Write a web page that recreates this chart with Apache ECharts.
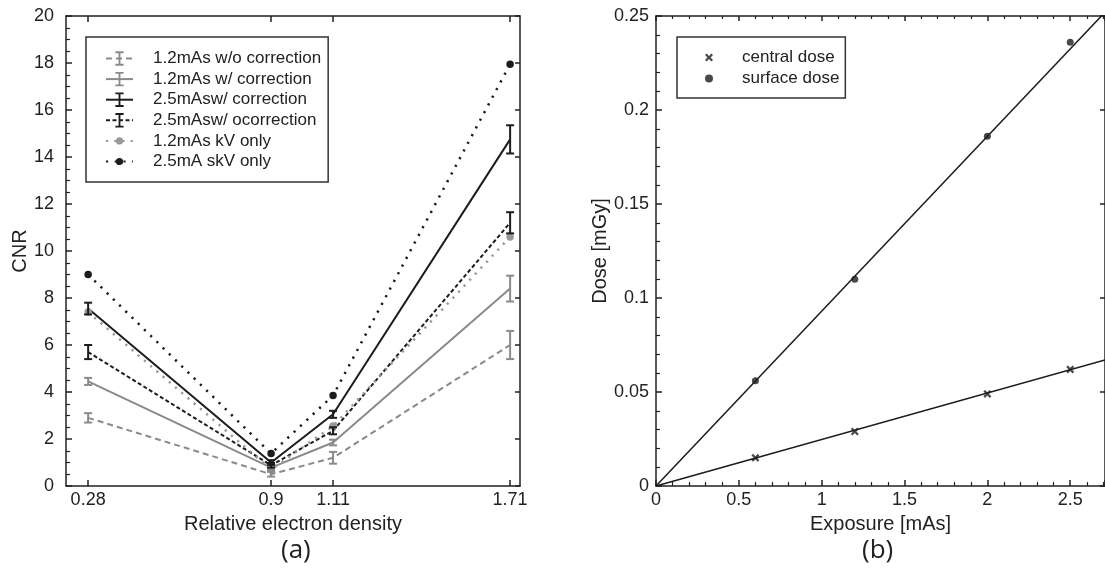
<!DOCTYPE html>
<html>
<head>
<meta charset="utf-8">
<script src="https://cdn.jsdelivr.net/npm/echarts@6/dist/echarts.min.js"></script>
<style>
  html, body { margin: 0; padding: 0; background: #fff; }
  #main { width: 1105px; height: 571px; }
</style>
</head>
<body>
<div id="main"></div>
<script>
// (a) CNR vs relative electron density
const densityX = [0.28, 0.9, 1.11, 1.71];
const cnr12NoCorr = [2.9, 0.5, 1.2, 6.0];
const err12NoCorr = [0.2, 0.1, 0.25, 0.6];
const cnr12Corr = [4.45, 0.78, 1.85, 8.4];
const err12Corr = [0.15, 0.1, 0.12, 0.55];
const cnr25Corr = [7.55, 1.0, 3.05, 14.75];
const err25Corr = [0.25, 0.1, 0.15, 0.6];
const cnr25NoCorr = [5.7, 0.88, 2.35, 11.2];
const err25NoCorr = [0.3, 0.1, 0.15, 0.45];
const cnr12kV = [7.4, 0.7, 2.55, 10.6];
const cnr25kV = [9.0, 1.38, 3.85, 17.95];
const cnrTicks = [0.28, 0.9, 1.11, 1.71];

// (b) dose vs exposure
const exposure = [0.6, 1.2, 2.0, 2.5];
const centralDose = [0.015, 0.029, 0.049, 0.062];
const surfaceDose = [0.056, 0.110, 0.186, 0.236];
const fitX = [0, 2.71];
const centralFit = [0, 0.067];
const surfaceFit = [0, 0.252];

const GRAY = '#8a8a8a';
const BLACK = '#1c1c1c';
const AXIS = '#222';
const FONT = '"Liberation Sans", Arial, sans-serif';
// symbols padded with empty moveTo corners so legend icons keep their shape
const ERRBAR = 'path://M0,0M14,14M3,0H11V1.8H7.9V12.2H11V14H3V12.2H6.1V1.8H3Z';
const DOT = 'path://M0,0M14,14M7,3.5A3.5,3.5,0,1,1,6.99,3.5Z';
const CROSS = 'path://M2,0L5,3L8,0L10,2L7,5L10,8L8,10L5,7L2,10L0,8L3,5L0,2Z';

const chart = echarts.init(document.getElementById('main'), null, { renderer: 'canvas' });

function pairs(xs, ys) {
  return xs.map((x, i) => [x, ys[i]]);
}

function lineSeries(name, values, color, type, width, symbol, showSymbol) {
  return {
    name: name,
    type: 'line',
    xAxisIndex: 0,
    yAxisIndex: 0,
    data: pairs(densityX, values),
    symbol: symbol,
    symbolSize: 15,
    showSymbol: showSymbol,
    itemStyle: { color: color },
    lineStyle: { color: color, width: width, type: type },
    z: 2
  };
}

function errorBars(values, errs, color) {
  return {
    type: 'custom',
    name: 'err',
    xAxisIndex: 0,
    yAxisIndex: 0,
    data: densityX.map((x, i) => [x, values[i], errs[i]]),
    encode: { x: 0, y: 1 },
    z: 3,
    renderItem: function (params, api) {
      const x = api.value(0), y = api.value(1), e = api.value(2);
      const hi = api.coord([x, y + e]);
      const lo = api.coord([x, y - e]);
      const w = 4;
      const st = { stroke: color, lineWidth: 2 };
      return {
        type: 'group',
        children: [
          { type: 'line', shape: { x1: hi[0], y1: hi[1], x2: lo[0], y2: lo[1] }, style: st },
          { type: 'line', shape: { x1: hi[0] - w, y1: hi[1], x2: hi[0] + w, y2: hi[1] }, style: st },
          { type: 'line', shape: { x1: lo[0] - w, y1: lo[1], x2: lo[0] + w, y2: lo[1] }, style: st }
        ]
      };
    }
  };
}

const axisLine = { show: true, onZero: false, lineStyle: { color: AXIS, width: 1.5 } };
const labelStyle = { color: '#222', fontSize: 18, fontFamily: FONT };
const nameStyle = { color: '#222', fontSize: 20, fontFamily: FONT };

var option = {
  animation: false,
  backgroundColor: '#fff',
  textStyle: { fontFamily: FONT },
  grid: [
    { left: 66, top: 16, width: 454, height: 470 },
    { left: 656, top: 16, width: 450, height: 470 }
  ],
  xAxis: [
    {
      gridIndex: 0, type: 'value', min: 0.205, max: 1.7435,
      name: 'Relative electron density', nameLocation: 'middle', nameGap: 28,
      nameTextStyle: nameStyle,
      axisLine: axisLine,
      axisTick: { inside: true, length: 6, customValues: cnrTicks, lineStyle: { color: AXIS, width: 1.5 } },
      axisLabel: Object.assign({ customValues: cnrTicks, margin: 5 }, labelStyle),
      splitLine: { show: false }
    },
    {
      gridIndex: 0, type: 'value', min: 0.205, max: 1.7435, position: 'top',
      axisLine: axisLine,
      axisTick: { inside: true, length: 6, customValues: cnrTicks, lineStyle: { color: AXIS, width: 1.5 } },
      axisLabel: { show: false },
      splitLine: { show: false }
    },
    {
      gridIndex: 1, type: 'value', min: 0, max: 2.71, interval: 0.5,
      name: 'Exposure [mAs]', nameLocation: 'middle', nameGap: 28,
      nameTextStyle: nameStyle,
      axisLine: axisLine,
      axisTick: { inside: true, length: 6, lineStyle: { color: AXIS, width: 1.5 } },
      minorTick: { show: true, splitNumber: 5, length: 4, lineStyle: { color: AXIS, width: 1.2 } },
      axisLabel: Object.assign({ margin: 5, showMaxLabel: false }, labelStyle),
      splitLine: { show: false }
    },
    {
      gridIndex: 1, type: 'value', min: 0, max: 2.71, interval: 0.5, position: 'top',
      axisLine: axisLine,
      axisTick: { inside: true, length: 5, lineStyle: { color: AXIS, width: 1.5 } },
      minorTick: { show: true, splitNumber: 5, length: 3, lineStyle: { color: AXIS, width: 1.2 } },
      axisLabel: { show: false },
      splitLine: { show: false }
    }
  ],
  yAxis: [
    {
      gridIndex: 0, type: 'value', min: 0, max: 20, interval: 2,
      name: 'CNR', nameLocation: 'middle', nameGap: 33,
      nameTextStyle: nameStyle,
      axisLine: axisLine,
      axisTick: { inside: true, length: 6, lineStyle: { color: AXIS, width: 1.5 } },
      minorTick: { show: true, splitNumber: 4, length: 4, lineStyle: { color: AXIS, width: 1.2 } },
      axisLabel: Object.assign({ margin: 12 }, labelStyle),
      splitLine: { show: false }
    },
    {
      gridIndex: 0, type: 'value', min: 0, max: 20, interval: 2, position: 'right',
      axisLine: axisLine,
      axisTick: { inside: true, length: 5, lineStyle: { color: AXIS, width: 1.5 } },
      axisLabel: { show: false },
      splitLine: { show: false }
    },
    {
      gridIndex: 1, type: 'value', min: 0, max: 0.25, interval: 0.05,
      name: 'Dose [mGy]', nameLocation: 'middle', nameGap: 36,
      nameTextStyle: nameStyle,
      axisLine: axisLine,
      axisTick: { inside: true, length: 6, lineStyle: { color: AXIS, width: 1.5 } },
      minorTick: { show: true, splitNumber: 5, length: 4, lineStyle: { color: AXIS, width: 1.2 } },
      axisLabel: Object.assign({ margin: 7 }, labelStyle),
      splitLine: { show: false }
    },
    {
      gridIndex: 1, type: 'value', min: 0, max: 0.25, interval: 0.05, position: 'right',
      axisLine: axisLine,
      axisTick: { inside: true, length: 5, lineStyle: { color: AXIS, width: 1.5 } },
      axisLabel: { show: false },
      splitLine: { show: false }
    }
  ],
  legend: [
    {
      left: 86, top: 37, orient: 'vertical',
      data: ['1.2mAs w/o correction', '1.2mAs w/ correction', '2.5mAsw/ correction',
             '2.5mAsw/ ocorrection', '1.2mAs kV only', '2.5mA skV only'],
      itemWidth: 27, itemHeight: 18, itemGap: 3.6,
      padding: [13, 7, 12, 19],
      borderColor: '#333', borderWidth: 1.5, borderRadius: 0,
      backgroundColor: '#fff',
      textStyle: { color: '#222', fontSize: 17, fontFamily: FONT, padding: [0, 0, 0, 15] },
      selectedMode: false
    },
    {
      left: 677, top: 37, orient: 'vertical',
      data: ['central dose', 'surface dose'],
      itemWidth: 8, itemHeight: 8, itemGap: 4,
      padding: [12, 6, 11, 28],
      borderColor: '#333', borderWidth: 1.5, borderRadius: 0,
      backgroundColor: '#fff',
      textStyle: { color: '#222', fontSize: 17, fontFamily: FONT, padding: [0, 0, 0, 24] },
      selectedMode: false
    }
  ],
  graphic: [
    { type: 'text', left: 281, top: 538, style: { text: '(a)', fontSize: 26, fontFamily: '"Open Sans", sans-serif', fill: '#222' } },
    { type: 'text', left: 862, top: 538, style: { text: '(b)', fontSize: 26, fontFamily: '"Open Sans", sans-serif', fill: '#222' } }
  ],
  series: [
    lineSeries('1.2mAs w/o correction', cnr12NoCorr, GRAY, [6, 4], 2, ERRBAR, false),
    errorBars(cnr12NoCorr, err12NoCorr, GRAY),
    lineSeries('1.2mAs w/ correction', cnr12Corr, GRAY, 'solid', 2, ERRBAR, false),
    errorBars(cnr12Corr, err12Corr, GRAY),
    lineSeries('2.5mAsw/ correction', cnr25Corr, BLACK, 'solid', 2, ERRBAR, false),
    errorBars(cnr25Corr, err25Corr, BLACK),
    lineSeries('2.5mAsw/ ocorrection', cnr25NoCorr, BLACK, [4, 2.5], 2, ERRBAR, false),
    errorBars(cnr25NoCorr, err25NoCorr, BLACK),
    lineSeries('1.2mAs kV only', cnr12kV, '#999', [2.2, 6], 2.5, DOT, true),
    lineSeries('2.5mA skV only', cnr25kV, BLACK, [2.2, 6.5], 2.5, DOT, true),
    {
      name: 'central fit', type: 'line', xAxisIndex: 2, yAxisIndex: 2,
      data: pairs(fitX, centralFit), symbol: 'none',
      lineStyle: { color: BLACK, width: 1.5 }, z: 2
    },
    {
      name: 'surface fit', type: 'line', xAxisIndex: 2, yAxisIndex: 2,
      data: pairs(fitX, surfaceFit), symbol: 'none',
      lineStyle: { color: BLACK, width: 1.5 }, z: 2
    },
    {
      name: 'central dose', type: 'scatter', xAxisIndex: 2, yAxisIndex: 2,
      data: pairs(exposure, centralDose), symbol: CROSS, symbolSize: 8,
      itemStyle: { color: BLACK }, z: 3
    },
    {
      name: 'surface dose', type: 'scatter', xAxisIndex: 2, yAxisIndex: 2,
      data: pairs(exposure, surfaceDose), symbol: 'circle', symbolSize: 7,
      itemStyle: { color: BLACK }, z: 3
    }
  ]
};

chart.setOption(option);
</script>
</body>
</html>
